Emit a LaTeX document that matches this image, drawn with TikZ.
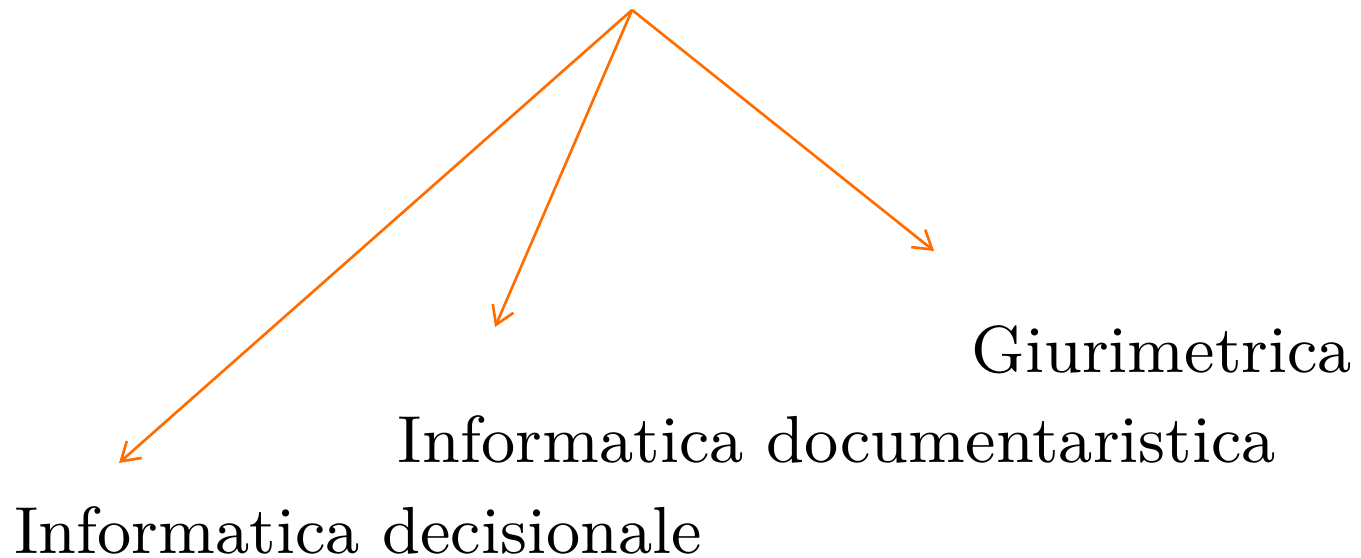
\documentclass[tikz,border=0pt]{standalone}
\usepackage{tikz}
\usetikzlibrary{arrows.meta,positioning}
\definecolor{arrowOrange}{RGB}{255,108,0}

\begin{document}
\begin{tikzpicture}
		\tikzstyle{area} = [inner sep=0pt, anchor=base west, text=black, font=\small, scale=1.12]
		\tikzstyle{arrow} = [-{Straight Barb[length=2.7pt,width=3.4pt]}, draw=arrowOrange]
		\useasboundingbox (-3.367,0.053) rectangle (3.883,-2.919);
		\coordinate (root) at (0,0);
		\coordinate (decisionaleEnd) at (-2.733,-2.413);
		\coordinate (documentaristicaEnd) at (-0.730,-1.689);
		\coordinate (giurimetricaEnd) at (1.609,-1.284);
		\node (decisionale) [area] at (-3.300,-2.893) {Informatica decisionale};
		\node (documentaristica) [area] at (-1.255,-2.413) {Informatica documentaristica};
		\node (giurimetrica) [area] at (1.800,-1.930) {Giurimetrica};
		\draw [arrow] (root) -- (decisionaleEnd);
		\draw [arrow] (root) -- (documentaristicaEnd);
		\draw [arrow] (root) -- (giurimetricaEnd);
\end{tikzpicture}
\end{document}
